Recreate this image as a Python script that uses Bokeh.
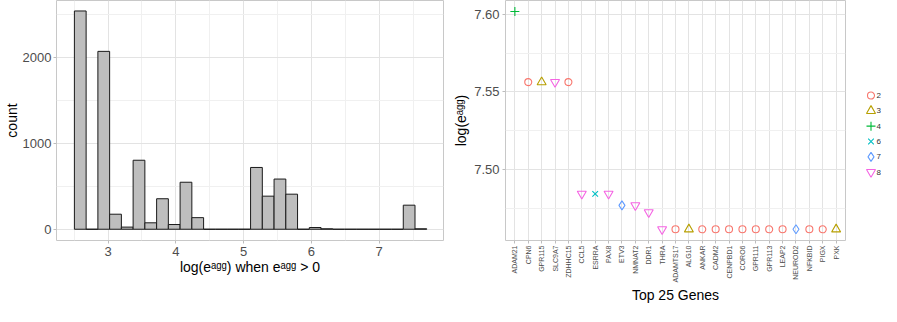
import numpy as np
from bokeh.plotting import figure
from bokeh.models import Range1d, FactorRange, FixedTicker, ColumnDataSource, CustomJSTickFormatter
from bokeh.core.properties import value
from bokeh.layouts import row
from bokeh.embed import file_html
from bokeh.resources import INLINE

# ---------------- Data ----------------
# Histogram of log(e_agg), 30 bins
bin_start = 2.504
bin_width = 0.1733
counts = [2540, 0, 2070, 175, 25, 803, 75, 355, 55, 547,
          135, 0, 0, 0, 0, 719, 385, 584, 408, 0,
          20, 5, 0, 0, 0, 0, 0, 0, 280, 5]
hist_x_ticks = [3, 4, 5, 6, 7]
hist_x_minor = [2.5, 3.5, 4.5, 5.5, 6.5, 7.5]
hist_y_ticks = [0, 1000, 2000]
hist_y_minor = [500, 1500, 2500]

# Top 25 genes
genes = ["ADAM21", "CPN6", "GPR115", "SLC9A7", "ZDHHC15", "CCL5", "ESRRA", "PAX8",
         "ETV3", "NMNAT2", "DDR1", "THRA", "ADAMTS17", "ALG10", "ANKAR", "CADM2",
         "CENPBD1", "CORO6", "GPR111", "GPR113", "LEAP2", "NEUROD2", "NFKBID", "PIGX", "PXK"]
values = [7.6017, 7.5563, 7.5563, 7.5563, 7.5563, 7.4844, 7.4844, 7.4844,
          7.4770, 7.4770, 7.4725, 7.4616, 7.4616, 7.4616, 7.4616, 7.4616,
          7.4616, 7.4616, 7.4616, 7.4616, 7.4616, 7.4616, 7.4616, 7.4616, 7.4616]
groups = ["4", "2", "3", "8", "2", "8", "6", "8",
          "7", "8", "8", "8", "2", "3", "2", "2",
          "2", "2", "2", "2", "2", "7", "2", "2", "3"]
group_levels = ["2", "3", "4", "6", "7", "8"]
group_colors = ["#F8766D", "#B79F00", "#00BA38", "#00BFC4", "#619CFF", "#F564E3"]
group_markers = ["circle", "triangle", "cross", "x", "diamond", "inverted_triangle"]
group_sizes = [7, 9, 9, 8, 9, 9]
gene_y_ticks = [7.50, 7.55, 7.60]
gene_y_minor = [7.475, 7.525, 7.575]

FONT = "Liberation Sans"
TICK_COLOR = "#4D4D4D"
GRID_MAJOR = "#E3E3E3"
GRID_MINOR = "#F0F0F0"
BORDER = "#C8C8C8"


def style(p):
    p.outline_line_color = BORDER
    p.outline_line_width = 1
    p.background_fill_color = "white"
    p.border_fill_color = "white"
    for ax in p.axis:
        ax.axis_line_color = None
        ax.major_tick_line_color = "#BDBDBD"
        ax.major_tick_out = 3
        ax.major_tick_in = 0
        ax.minor_tick_line_color = None
        ax.major_label_text_font = FONT
        ax.major_label_text_color = TICK_COLOR
        ax.axis_label_text_font = FONT
        ax.axis_label_text_font_style = "normal"
        ax.axis_label_text_color = "black"
        ax.axis_label_text_font_size = "14px"
    for g in p.grid:
        g.grid_line_color = GRID_MAJOR
        g.grid_line_width = 1
        g.minor_grid_line_color = GRID_MINOR
        g.minor_grid_line_width = 1


# ---------------- Left: histogram ----------------
edges = bin_start + bin_width * np.arange(len(counts) + 1)
hist_src = ColumnDataSource(dict(left=edges[:-1], right=edges[1:], top=counts,
                                 bottom=[0] * len(counts)))

p1 = figure(width=450, height=306, output_backend="svg", toolbar_location=None,
            x_range=Range1d(2.24, 7.95), y_range=Range1d(-131, 2662),
            min_border_left=0, min_border_right=7, min_border_top=0, min_border_bottom=0)
p1.quad(left="left", right="right", top="top", bottom="bottom", source=hist_src,
        fill_color="#BEBEBE", line_color="#1A1A1A", line_width=1)
style(p1)
p1.xaxis.ticker = FixedTicker(ticks=hist_x_ticks, minor_ticks=hist_x_minor)
p1.yaxis.ticker = FixedTicker(ticks=hist_y_ticks, minor_ticks=hist_y_minor)
p1.xaxis.major_label_text_font_size = "13px"
p1.yaxis.major_label_text_font_size = "13px"
p1.xaxis.major_label_standoff = 2
p1.yaxis.major_label_standoff = 1
p1.xaxis.axis_label = "log(e\u1d43\u1d4d\u1d4d) when e\u1d43\u1d4d\u1d4d > 0"
p1.yaxis.axis_label = "count"
p1.xaxis.axis_label_standoff = 0
p1.yaxis.axis_label_standoff = 0

# ---------------- Right: top 25 genes ----------------
p2 = figure(width=396, height=306, output_backend="svg", toolbar_location=None,
            x_range=FactorRange(factors=genes, range_padding=0.2, range_padding_units="absolute"),
            y_range=Range1d(7.4544, 7.6088),
            min_border_left=0, min_border_right=1, min_border_top=0, min_border_bottom=0)
style(p2)
for lvl, col, mk, sz in zip(group_levels, group_colors, group_markers, group_sizes):
    xs = [g for g, gr in zip(genes, groups) if gr == lvl]
    ys = [v for v, gr in zip(values, groups) if gr == lvl]
    p2.scatter(x=xs, y=ys, marker=mk, size=sz, line_color=col, fill_alpha=0, line_width=1.1)

p2.yaxis.ticker = FixedTicker(ticks=gene_y_ticks, minor_ticks=gene_y_minor)
p2.yaxis.formatter = CustomJSTickFormatter(code="return tick.toFixed(2);")
p2.yaxis.major_label_text_font_size = "13px"
p2.yaxis.major_label_standoff = 2
p2.xaxis.major_label_orientation = np.pi / 2
p2.xaxis.major_label_text_font_size = "7px"
p2.xaxis.major_label_standoff = 2
p2.xaxis.axis_label = "Top 25 Genes"
p2.yaxis.axis_label = "log(e\u1d43\u1d4d\u1d4d)"
p2.xaxis.axis_label_standoff = 2
p2.yaxis.axis_label_standoff = 2

# ---------------- Legend panel (its own small figure) ----------------
legend_pos = [len(group_levels) - 1 - i for i in range(len(group_levels))]
p3 = figure(width=35, height=306, output_backend="svg", toolbar_location=None,
            x_range=Range1d(0, 1), y_range=Range1d(-4.46, 11.2),
            min_border_left=0, min_border_right=0, min_border_top=0, min_border_bottom=0)
p3.axis.visible = False
p3.grid.visible = False
p3.outline_line_color = None
p3.background_fill_color = "white"
p3.border_fill_color = "white"
for lvl, pos, col, mk, sz in zip(group_levels, legend_pos, group_colors, group_markers, group_sizes):
    p3.scatter(x=[0.7], y=[pos], marker=mk, size=sz, line_color=col, fill_alpha=0, line_width=1.1)
p3.text(x=[0.86] * len(group_levels), y=legend_pos, text=group_levels,
        text_font=value(FONT), text_font_size="8px", text_color="#333333",
        text_align="left", text_baseline="middle")

layout = row(p1, p2, p3)
open("out.html", "w").write(file_html(layout, INLINE))
